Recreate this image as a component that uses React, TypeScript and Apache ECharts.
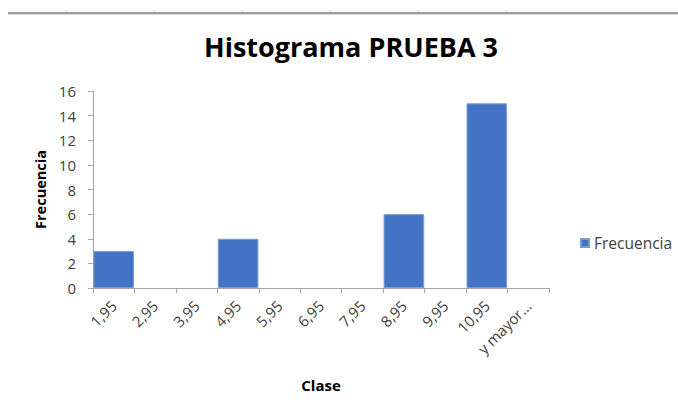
import React, { useEffect, useRef } from "react";
import * as echarts from "echarts";

const categories = ["1,95", "2,95", "3,95", "4,95", "5,95", "6,95", "7,95", "8,95", "9,95", "10,95", "y mayor..."];
const frecuencia = [3, 0, 0, 4, 0, 0, 0, 6, 0, 15, 0];
const topTicks = [66, 154, 242, 330, 418, 506];

const FONT = "'Open Sans', 'Noto Sans', sans-serif";

export default function App() {
  const ref = useRef<HTMLDivElement>(null);
  useEffect(() => {
    if (!ref.current) return;
    const chart = echarts.init(ref.current, undefined, { renderer: "svg" });
    chart.setOption({
      animation: false,
      backgroundColor: "#ffffff",
      textStyle: { fontFamily: FONT },
      title: {
        text: "Histograma PRUEBA 3",
        left: 346,
        textAlign: "center",
        top: 28,
        textStyle: { fontFamily: FONT, fontSize: 27, fontWeight: "bold", color: "#000000" },
      },
      legend: {
        left: 575,
        top: 230,
        orient: "vertical",
        icon: "rect",
        itemWidth: 8,
        itemHeight: 8,
        itemGap: 4,
        textStyle: { fontFamily: FONT, fontSize: 15.5, color: "#404040" },
        data: ["Frecuencia"],
      },
      grid: { left: 93, right: 129, top: 91, bottom: 126, containLabel: false },
      xAxis: {
        type: "category",
        data: categories,
        name: "Clase",
        nameLocation: "middle",
        nameGap: 89,
        nameTextStyle: { fontFamily: FONT, fontSize: 15, fontWeight: "bold", color: "#000000" },
        axisLine: { lineStyle: { color: "#a6a6a6", width: 1 } },
        axisTick: { show: true, length: 5, lineStyle: { color: "#a6a6a6" } },
        axisLabel: { rotate: 45, interval: 0, fontSize: 15, color: "#404040", margin: 15, fontFamily: FONT },
      },
      yAxis: {
        type: "value",
        min: 0,
        max: 16,
        interval: 2,
        name: "Frecuencia",
        nameLocation: "middle",
        nameGap: 40,
        nameRotate: 90,
        nameTextStyle: { fontFamily: FONT, fontSize: 14.5, fontWeight: "bold", color: "#000000" },
        axisLine: { show: true, lineStyle: { color: "#a6a6a6", width: 1 } },
        axisTick: { show: true, length: 5, lineStyle: { color: "#a6a6a6" } },
        splitLine: { show: false },
        axisLabel: { fontSize: 15, color: "#404040", margin: 17, fontFamily: FONT },
      },
      series: [
        {
          name: "Frecuencia",
          type: "bar",
          data: frecuencia.map((v) => ({
            value: v,
            itemStyle: v === 0 ? { borderWidth: 0 } : {},
          })),
          barCategoryGap: "2%",
          itemStyle: { color: "#4472C4", borderColor: "#7b9bd6", borderWidth: 1 },
        },
      ],
      graphic: [
        { type: "rect", shape: { x: 8, y: 12, width: 670, height: 2 }, style: { fill: "#a0a0a0" }, silent: true },
        { type: "rect", shape: { x: 8, y: 14, width: 670, height: 1 }, style: { fill: "#d9d9d9" }, silent: true },
        ...topTicks.map((x) => ({
          type: "line",
          shape: { x1: x, y1: 10, x2: x, y2: 12 },
          style: { stroke: "#c8c8c8", lineWidth: 1 },
          silent: true,
        })),
      ],
    });
    return () => chart.dispose();
  }, []);
  return <div ref={ref} style={{ position: "absolute", left: 0, top: 0, width: 678, height: 414 }} />;
}
